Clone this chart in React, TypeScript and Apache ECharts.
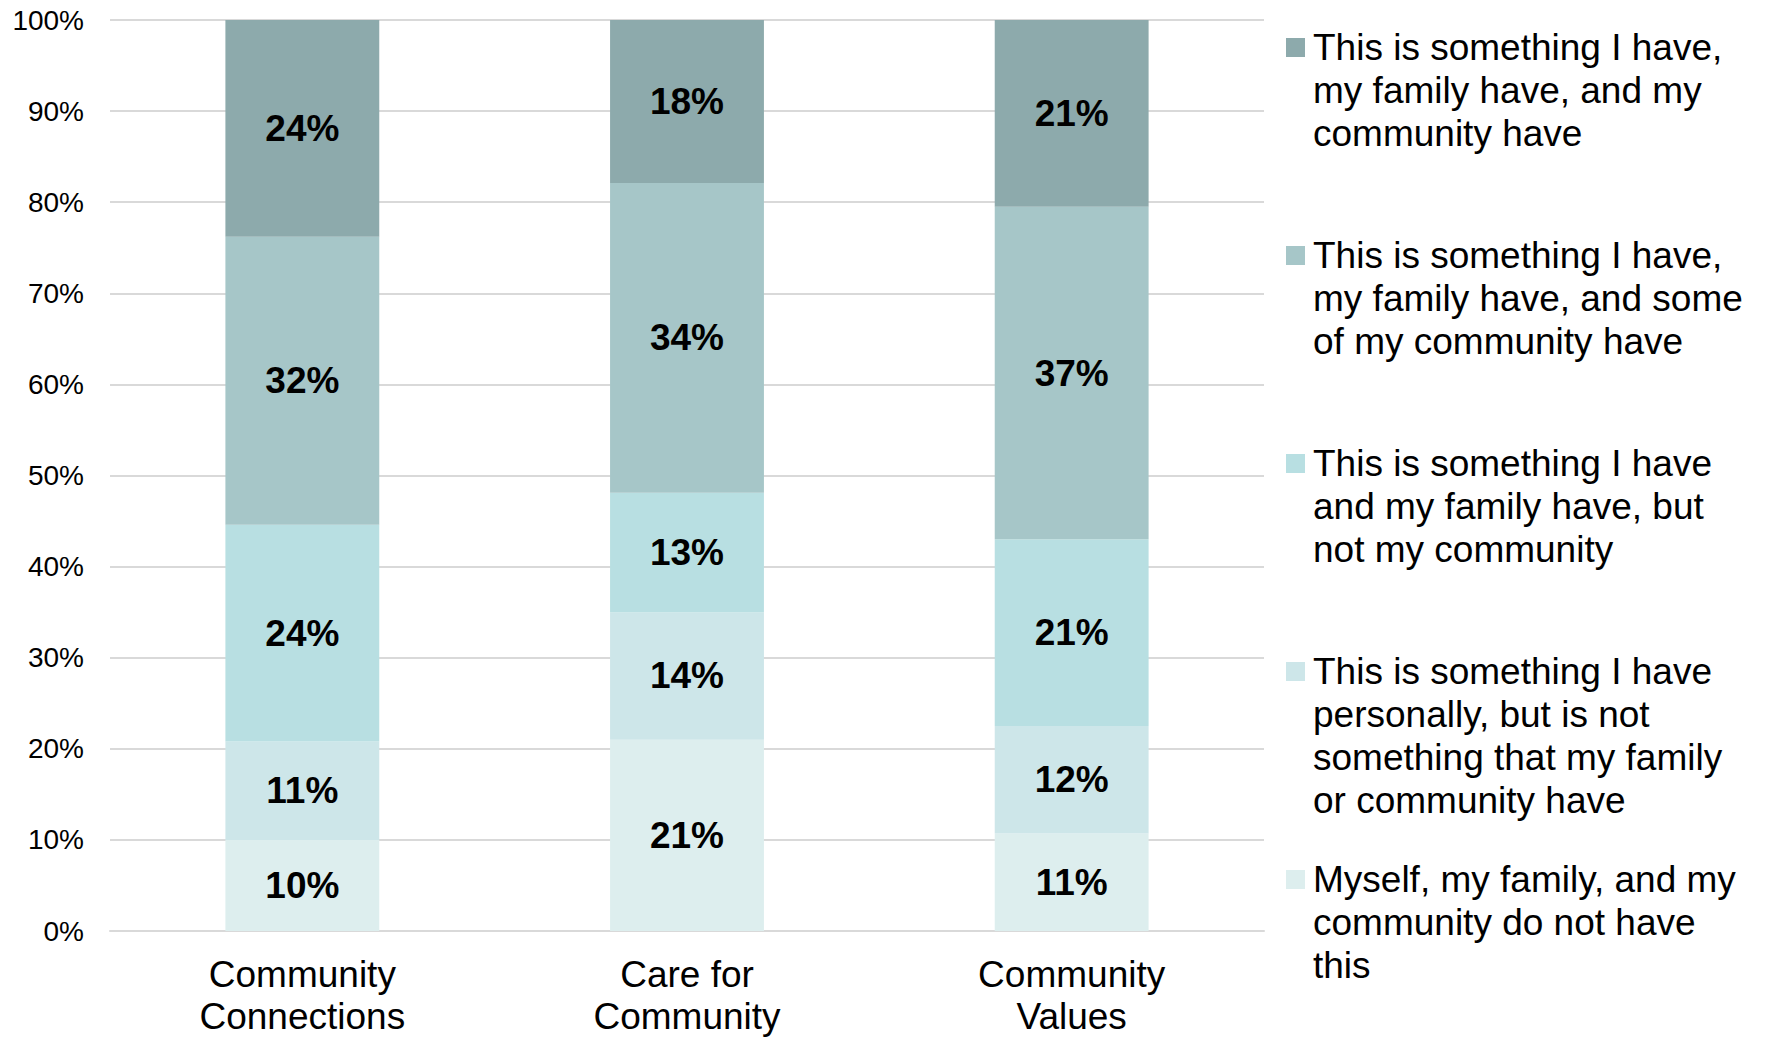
import React, { useEffect, useRef } from "react";
import * as echarts from "echarts";

const categories = ["Community\nConnections", "Care for\nCommunity", "Community\nValues"];

const seriesNames = [
  "Myself, my family, and my community do not have this",
  "This is something I have personally, but is not something that my family or community have",
  "This is something I have and my family have, but not my community",
  "This is something I have, my family have, and some of my community have",
  "This is something I have, my family have, and my community have",
];

const legendLabels = [
  "This is something I have,\nmy family have, and my\ncommunity have",
  "This is something I have,\nmy family have, and some\nof my community have",
  "This is something I have\nand my family have, but\nnot my community",
  "This is something I have\npersonally, but is not\nsomething that my family\nor community have",
  "Myself, my family, and my\ncommunity do not have\nthis",
];

// bottom → top
const notHave = [10.0, 21.0, 10.7];
const personally = [10.8, 14.0, 11.8];
const meAndFamily = [23.8, 13.1, 20.5];
const someCommunity = [31.6, 34.0, 36.5];
const allCommunity = [23.8, 17.9, 20.5];

const seriesValues = [notHave, personally, meAndFamily, someCommunity, allCommunity];
const colors = ["#DDEEEE", "#CDE6E9", "#B8DFE2", "#A6C6C8", "#8DAAAC"];

const yTicks = { min: 0, max: 100, interval: 10 };

const FONT = "'Liberation Sans', Arial, sans-serif";

export default function App() {
  const ref = useRef<HTMLDivElement>(null);
  useEffect(() => {
    if (!ref.current) return;
    const chart = echarts.init(ref.current, null, { renderer: "svg" });

    const legendTop = 26;
    const legendStep = 208;
    const lineH = 43;
    const graphics: any[] = [];
    // legend order: top series first
    for (let i = 0; i < 5; i++) {
      const sIdx = 4 - i;
      const y = legendTop + i * legendStep;
      graphics.push({
        type: "rect",
        left: 1286,
        top: y + lineH / 2 - 9.5,
        shape: { width: 19, height: 19 },
        style: { fill: colors[sIdx] },
      });
      graphics.push({
        type: "text",
        left: 1313,
        top: y,
        style: {
          text: legendLabels[i],
          font: `37px ${FONT}`,
          lineHeight: lineH,
          fill: "#000",
        },
      });
    }

    chart.setOption({
      animation: false,
      backgroundColor: "#fff",
      legend: { show: false, data: seriesNames },
      grid: { left: 110, right: 502, top: 20, bottom: 98, containLabel: false },
      xAxis: {
        type: "category",
        data: categories,
        axisLine: { show: true, lineStyle: { color: "#D9D9D9", width: 2 } },
        axisTick: { show: false },
        axisLabel: {
          color: "#000",
          fontSize: 37,
          fontFamily: FONT,
          lineHeight: 42,
          margin: 22,
          interval: 0,
        },
      },
      yAxis: {
        type: "value",
        min: yTicks.min,
        max: yTicks.max,
        interval: yTicks.interval,
        axisLine: { show: false },
        axisTick: { show: false },
        axisLabel: {
          color: "#000",
          fontSize: 28,
          fontFamily: FONT,
          margin: 26,
          formatter: "{value}%",
        },
        splitLine: { lineStyle: { color: "#D9D9D9", width: 2 } },
      },
      graphic: graphics,
      series: seriesValues.map((vals, i) => ({
        name: seriesNames[i],
        type: "bar",
        stack: "total",
        barWidth: "40%",
        data: vals,
        itemStyle: { color: colors[i] },
        label: {
          show: true,
          position: "inside",
          color: "#000",
          fontSize: 37,
          fontWeight: "bold",
          fontFamily: FONT,
          formatter: (p: any) => `${Math.round(p.value)}%`,
        },
      })),
    });
    return () => chart.dispose();
  }, []);
  return (
    <div
      ref={ref}
      style={{ position: "fixed", left: 0, top: 0, width: 1766, height: 1037 }}
    />
  );
}
